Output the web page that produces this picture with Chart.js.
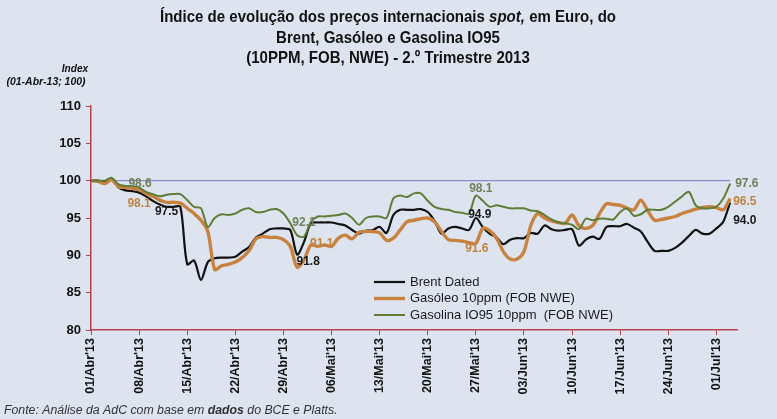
<!DOCTYPE html>
<html>
<head>
<meta charset="utf-8">
<script src="https://cdn.jsdelivr.net/npm/chart.js@4.4.0/dist/chart.umd.min.js"></script>
<style>
html, body { margin:0; padding:0; background:#dde4f0; }
canvas { display:block; }
</style>
</head>
<body>
<canvas id="brent-chart" width="777" height="419"></canvas>
<script>
// Indice spot Brent / Gasoleo / Gasolina - 2.o Trimestre 2013 (base 01-Abr-13 = 100)

var startDate = new Date(2013, 3, 1);
var dayCount = 95; // 01/Abr ... 04/Jul (eixo de datas diario)

var tickLabels = [
	"01/Abr'13", "08/Abr'13", "15/Abr'13", "22/Abr'13", "29/Abr'13",
	"06/Mai'13", "13/Mai'13", "20/Mai'13", "27/Mai'13",
	"03/Jun'13", "10/Jun'13", "17/Jun'13", "24/Jun'13", "01/Jul'13"
];

var seriesNames = [
	'Brent Dated',
	'Gasóleo 10ppm (FOB NWE)',
	'Gasolina IO95 10ppm  (FOB NWE)'
];

var brentValues = [
	100.0, 100.0, 99.8, 100.3, 99.1, 98.7, 98.6,
	98.4, 97.9, 97.3, 96.8, 96.5, 96.5, 96.5,
	88.8, 89.3, 86.7, 89.1, 89.6, 89.7, 89.7,
	89.8, 90.5, 91.1, 92.4, 92.9, 93.5, 93.6,
	93.6, 93.4, 90.1, 91.8, 94.3, 94.4, 94.4,
	94.4, 94.2, 94.0, 93.4, 92.9, 93.3, 93.4,
	93.8, 93.0, 95.4, 96.1, 96.1, 96.1, 96.2,
	95.8, 94.6, 92.9, 93.6, 93.8, 93.6, 93.4,
	95.0, 93.8, 92.9, 92.4, 91.5, 92.1, 92.3,
	92.3, 93.0, 92.9, 94.0, 93.5, 93.3, 93.4,
	93.5, 91.3, 92.1, 92.5, 92.2, 93.8, 93.9,
	93.9, 94.2, 93.7, 93.2, 91.8, 90.6, 90.6,
	90.6, 91.0, 91.7, 92.6, 93.4, 92.9, 92.9,
	93.6, 94.5, 97.1
];

var gasoleoValues = [
	100.0, 99.9, 99.6, 100.1, 99.2, 99.1, 99.0,
	98.8, 98.3, 97.9, 97.4, 97.1, 97.1, 97.0,
	96.3, 95.6, 94.7, 93.2, 88.1, 88.6, 88.8,
	89.1, 89.7, 90.6, 92.2, 92.5, 92.4, 92.4,
	92.1, 91.2, 88.4, 89.4, 91.4, 91.2, 91.4,
	91.2, 92.3, 92.7, 92.2, 93.1, 93.2, 93.2,
	93.0, 92.0, 92.3, 93.4, 94.5, 94.7, 94.9,
	95.0, 94.5, 93.2, 92.1, 92.0, 91.9, 91.7,
	91.6, 93.6, 93.3, 92.3, 90.5, 89.5, 89.5,
	90.5, 94.0, 95.6, 95.0, 94.6, 94.4, 94.3,
	95.4, 94.0, 93.6, 94.0, 95.6, 96.9, 96.8,
	96.7, 96.3, 96.1, 97.4, 96.0, 94.7, 94.8,
	95.0, 95.2, 95.6, 95.9, 96.2, 96.4, 96.5,
	96.4, 96.1, 97.6
];

var gasolinaValues = [
	100.0, 100.0, 100.0, 100.4, 99.5, 99.3, 99.3,
	99.1, 98.5, 98.2, 97.9, 98.1, 98.2, 98.2,
	97.4, 96.5, 96.3, 93.8, 95.0, 95.5, 95.4,
	95.6, 96.1, 96.3, 95.8, 95.8, 96.1, 96.2,
	95.6, 94.3, 92.7, 92.5, 94.5, 95.2, 95.2,
	95.3, 95.4, 95.6, 95.0, 94.1, 95.0, 95.2,
	95.2, 95.0, 97.6, 98.0, 97.8, 98.3, 98.3,
	97.3, 96.5, 96.2, 96.1, 95.8, 95.7, 95.6,
	98.0, 97.3, 96.5, 96.7, 96.5, 96.3, 96.3,
	96.3, 96.0, 95.9, 95.4, 94.8, 94.4, 94.3,
	94.1, 93.5, 94.9, 94.7, 94.9, 94.9, 94.8,
	95.8, 96.3, 95.3, 95.5, 96.1, 96.1, 96.1,
	96.5, 97.2, 97.9, 98.5, 96.7, 96.3, 96.3,
	96.5, 97.6, 99.6
];

var baseIndex = 100;

// rotulos de dados (serie, ponto, texto)
var labelSeries = [2, 1, 0, 2, 1, 0, 2, 0, 1, 2, 1, 0];
var labelIndex = [7, 7, 11, 31, 33, 30, 56, 56, 56, 93, 93, 93];
var labelText = ['98.6', '98.1', '97.5', '92.1', '91.1', '91.8', '98.1', '94.9', '91.6', '97.6', '96.5', '94.0'];

var seriesColors = ['#111111', '#c8823f', '#5e7d36'];
var seriesWidths = [2.2, 3.4, 2];
var labelColors = ['#1a1a1a', '#c0843f', '#6f805a'];
var axisRed = '#b8404f';
var fontMain = '"Liberation Sans", Arial, sans-serif';

var dayLabels = [];
for (var i = 0; i < dayCount; i++) {
	var d = new Date(startDate.getTime());
	d.setDate(d.getDate() + i);
	dayLabels.push(d.getDate() + '/' + (d.getMonth() + 1) + '/13');
}

function measureParts(ctx, parts) {
	var total = 0;
	parts.forEach(function(p){ ctx.font = p.font; total += ctx.measureText(p.text).width; });
	return total;
}

// desenha texto com partes de estilos diferentes, comprimido na horizontal por sx
function drawMixed(ctx, parts, x, y, align, sx) {
	sx = sx || 1;
	var total = measureParts(ctx, parts) * sx;
	var cx = align === 'center' ? x - total / 2 : x;
	ctx.save();
	ctx.translate(cx, y);
	ctx.scale(sx, 1);
	ctx.textAlign = 'left';
	var px = 0;
	parts.forEach(function(p){
		ctx.font = p.font;
		ctx.fillText(p.text, px, 0);
		px += ctx.measureText(p.text).width;
	});
	ctx.restore();
}

var backgroundPlugin = {
	id: 'bgFill',
	beforeDraw: function(chart) {
		var ctx = chart.ctx;
		ctx.save();
		ctx.fillStyle = '#dde4f0';
		ctx.fillRect(0, 0, chart.width, chart.height);
		ctx.restore();
	}
};

var baseLinePlugin = {
	id: 'baseLine',
	beforeDatasetsDraw: function(chart) {
		var ctx = chart.ctx;
		var xs = chart.scales.x, ys = chart.scales.y;
		var y = ys.getPixelForValue(baseIndex);
		ctx.save();
		ctx.strokeStyle = '#8c8cc8';
		ctx.lineWidth = 1.3;
		ctx.beginPath();
		ctx.moveTo(xs.getPixelForValue(0), y);
		ctx.lineTo(xs.getPixelForValue(brentValues.length - 1), y);
		ctx.stroke();
		ctx.restore();
	}
};

var labelOffsets = [
	[1, -4, 'center'], [0, 14, 'center'], [0, 5, 'center'],
	[0, -14, 'center'], [4, -3, 'center'], [11, 7, 'center'],
	[5, -7, 'center'], [4, -3, 'center'], [1, 5, 'center'],
	[5, 0, 'left'], [3, 3, 'left'], [3, 18, 'left']
];

var dataLabelPlugin = {
	id: 'pointLabels',
	afterDatasetsDraw: function(chart) {
		var ctx = chart.ctx;
		ctx.save();
		ctx.font = 'bold 12px ' + fontMain;
		ctx.textBaseline = 'middle';
		for (var k = 0; k < labelText.length; k++) {
			var pt = chart.getDatasetMeta(labelSeries[k]).data[labelIndex[k]];
			ctx.fillStyle = labelColors[labelSeries[k]];
			ctx.textAlign = labelOffsets[k][2];
			ctx.fillText(labelText[k], pt.x + labelOffsets[k][0], pt.y + labelOffsets[k][1]);
		}
		ctx.restore();
	}
};

var legendPlugin = {
	id: 'boxLegend',
	afterDraw: function(chart) {
		var ctx = chart.ctx;
		ctx.save();
		ctx.font = '13px ' + fontMain;
		ctx.textBaseline = 'middle';
		ctx.textAlign = 'left';
		for (var k = 0; k < seriesNames.length; k++) {
			var y = 282 + k * 16.5;
			ctx.strokeStyle = seriesColors[k];
			ctx.lineWidth = seriesWidths[k];
			ctx.beginPath();
			ctx.moveTo(374, y);
			ctx.lineTo(405, y);
			ctx.stroke();
			ctx.fillStyle = '#1a1a1a';
			ctx.fillText(seriesNames[k], 410, y);
		}
		ctx.restore();
	}
};

var textPlugin = {
	id: 'texts',
	afterDraw: function(chart) {
		var ctx = chart.ctx;
		ctx.save();
		ctx.fillStyle = '#111';
		ctx.textBaseline = 'middle';
		var tb = 'bold 17px ' + fontMain;
		var ti = 'italic bold 17px ' + fontMain;
		var line1 = [
			{text: 'Índice de evolução dos preços internacionais ', font: tb},
			{text: 'spot,', font: ti},
			{text: ' em Euro, do', font: tb}
		];
		var sx = 456 / measureParts(ctx, line1);
		drawMixed(ctx, line1, 388, 17, 'center', sx);
		drawMixed(ctx, [{text: 'Brent, Gasóleo e Gasolina IO95', font: tb}], 388, 38, 'center', sx);
		drawMixed(ctx, [{text: '(10PPM, FOB, NWE) - 2.º Trimestre 2013', font: tb}], 388, 58, 'center', sx);

		drawMixed(ctx, [{text: 'Index', font: 'italic bold 11px ' + fontMain}], 75, 69, 'center', 0.92);
		drawMixed(ctx, [{text: '(01-Abr-13; 100)', font: 'italic bold 11px ' + fontMain}], 46, 82, 'center', 0.95);

		ctx.fillStyle = '#333';
		drawMixed(ctx, [
			{text: 'Fonte: Análise da AdC com base em ', font: 'italic 12.3px ' + fontMain},
			{text: 'dados', font: 'italic bold 12.3px ' + fontMain},
			{text: ' do BCE e Platts.', font: 'italic 12.3px ' + fontMain}
		], 4, 411, 'left', 1);
		ctx.restore();
	}
};

window.addEventListener('load', function(){
	var ctx = document.getElementById('brent-chart').getContext('2d');
	var valueSets = [brentValues, gasoleoValues, gasolinaValues];
	var chart = new Chart(ctx, {
		type: 'line',
		data: {
			labels: dayLabels,
			datasets: valueSets.map(function(vals, k){
				return {
					label: seriesNames[k],
					data: vals,
					borderColor: seriesColors[k],
					borderWidth: seriesWidths[k],
					pointRadius: 0,
					tension: 0.3,
					fill: false,
					borderJoinStyle: 'round',
					order: 2 - k
				};
			})
		},
		options: {
			responsive: false,
			maintainAspectRatio: false,
			animation: false,
			layout: {
				padding: { top: 106, left: 0, right: 40, bottom: 0 }
			},
			plugins: {
				legend: { display: false },
				title: { display: false },
				tooltip: { enabled: false }
			},
			scales: {
				x: {
					type: 'category',
					offset: false,
					grid: {
						drawOnChartArea: false,
						color: axisRed,
						tickLength: 5,
						lineWidth: 1
					},
					border: { color: axisRed, width: 1.5 },
					ticks: {
						autoSkip: false,
						maxRotation: 90,
						minRotation: 90,
						padding: 3,
						color: '#111',
						font: { family: fontMain, size: 12.5, weight: 'bold' },
						callback: function(val, idx) {
							return idx % 7 === 0 ? tickLabels[idx / 7] : null;
						}
					},
					afterFit: function(s) { s.height = 89; }
				},
				y: {
					min: 80,
					max: 110,
					grid: {
						drawOnChartArea: false,
						color: axisRed,
						tickLength: 5
					},
					border: { color: axisRed, width: 1.5 },
					ticks: {
						stepSize: 5,
						padding: 5,
						color: '#111',
						font: { family: fontMain, size: 13, weight: 'bold' }
					},
					afterFit: function(s) { s.width = 91; }
				}
			}
		},
		plugins: [backgroundPlugin, baseLinePlugin, dataLabelPlugin, legendPlugin, textPlugin]
	});
});
</script>
</body>
</html>
